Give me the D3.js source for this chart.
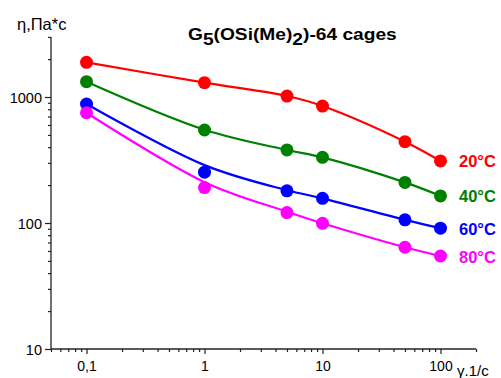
<!DOCTYPE html>
<html><head><meta charset="utf-8">
<script src="https://cdn.jsdelivr.net/npm/d3@7"></script>
<style>
html,body{margin:0;padding:0;background:#fff;}
text{font-family:"Liberation Sans",Arial,sans-serif;}
</style></head>
<body>
<svg id="chart" width="501" height="378"></svg>
<script>
const shearRates = [0.1, 1, 5, 10, 50, 100];
const seriesNames = ["20°C", "40°C", "60°C", "80°C"];
const seriesColors = ["#ff0000", "#008000", "#0000ff", "#ff00ff"];
const visc20 = [1885, 1299, 1018, 848, 442, 311];
const visc40 = [1323, 547, 380, 332, 210, 164];
const visc60 = [880, 253, 180, 157, 106, 91];
const visc80 = [750, 191, 121, 99.5, 64.2, 54.7];
// smoothed fit curves
const fit20 = [1885, 1299, 1018, 848, 442, 311];
const fit40 = [1323, 550, 380, 332, 210, 164];
const fit60 = [880, 288, 182, 157, 106, 91];
const fit80 = [750, 211, 123, 99.5, 64.2, 54.7];
const xTickValues = [0.1, 1, 10, 100];
const xTickLabels = ["0,1", "1", "10", "100"];
const yTickValues = [10, 100, 1000];
const yTickLabels = ["10", "100", "1000"];

const series = [visc20, visc40, visc60, visc80];
const fits = [fit20, fit40, fit60, fit80];

const svg = d3.select("#chart");
const x = d3.scaleLog().domain([0.05, 200]).range([51, 476]);
const y = d3.scaleLog().domain([10, 3000]).range([349, 36.9]);

const xMinor = [];
for (let d of [0.01, 0.1, 1, 10, 100]) for (let k = 2; k <= 9; k++) { const v = d * k; if (v >= 0.05 && v <= 200 && !xTickValues.includes(v)) xMinor.push(v); }
const yMinor = [];
for (let d of [10, 100, 1000]) for (let k = 2; k <= 9; k++) { const v = d * k; if (v <= 3000) yMinor.push(v); }

const axisColor = "#222";
const gy = svg.append("g").attr("transform", "translate(51,0)");
gy.call(d3.axisLeft(y).tickValues(yMinor).tickSize(3).tickFormat(""));
gy.call(g => g.select(".domain").remove());
const gy2 = svg.append("g").attr("transform", "translate(51,0)");
gy2.call(d3.axisLeft(y).tickValues(yTickValues).tickSize(6).tickPadding(3)
  .tickFormat((d, i) => yTickLabels[i]));
gy2.selectAll("text").attr("font-size", 14.5).attr("fill", "#000").attr("dy", "0.38em").attr("font-family", "Liberation Sans, Arial, sans-serif");
gy2.select(".domain").attr("d", "M0," + y(3000) + "V" + y(10));

const gx = svg.append("g").attr("transform", "translate(0,349)");
gx.call(d3.axisBottom(x).tickValues(xMinor).tickSize(3).tickFormat(""));
gx.call(g => g.select(".domain").remove());
const gx2 = svg.append("g").attr("transform", "translate(0,349)");
gx2.call(d3.axisBottom(x).tickValues(xTickValues).tickSize(5).tickPadding(7)
  .tickFormat((d, i) => xTickLabels[i]));
gx2.selectAll("text").attr("font-size", 14).attr("fill", "#000").attr("font-family", "Liberation Sans, Arial, sans-serif");
gx2.select(".domain").attr("d", "M" + x(0.05) + ",0H" + x(200));
svg.selectAll(".domain").attr("stroke", axisColor).attr("stroke-width", 1.3);
svg.selectAll(".tick line").attr("stroke", axisColor).attr("stroke-width", 1.2);

const line = d3.line().x(d => x(d[0])).y(d => y(d[1])).curve(d3.curveCatmullRom.alpha(0.5));
fits.forEach((f, i) => {
  svg.append("path")
    .attr("d", line(shearRates.map((r, j) => [r, f[j]])))
    .attr("fill", "none").attr("stroke", seriesColors[i]).attr("stroke-width", 2.2);
});
series.forEach((s, i) => {
  svg.append("g").selectAll("circle").data(s).join("circle")
    .attr("cx", (d, j) => x(shearRates[j])).attr("cy", d => y(d))
    .attr("r", 6.5).attr("fill", seriesColors[i]);
  svg.append("text").attr("x", 459).attr("y", y(s[s.length - 1]) + 6.5)
    .attr("font-size", 16.5).attr("font-weight", "bold").attr("fill", seriesColors[i])
    .text(seriesNames[i]);
});

// title
const tg = svg.append("g");
const t = tg.append("text").attr("x", 0).attr("y", 0).attr("font-size", 16.5).attr("font-weight", "bold").attr("fill", "#000");
t.append("tspan").text("G");
t.append("tspan").attr("dy", 5).text("5");
t.append("tspan").attr("dy", -5).text("(OSi(Me)");
t.append("tspan").attr("dy", 5).text("2");
t.append("tspan").attr("dy", -5).text(")-64 cages");
{
  const w = t.node().getComputedTextLength();
  const k = 209 / w;
  tg.attr("transform", "translate(188,40) scale(" + k + ",1)");
}

svg.append("text").attr("x", 17).attr("y", 30).attr("font-size", 16.5).attr("fill", "#000").text("η,Па*с");
svg.append("text").attr("x", 457).attr("y", 376).attr("font-size", 15).attr("fill", "#000").text("γ.1/с");
</script>
</body></html>
